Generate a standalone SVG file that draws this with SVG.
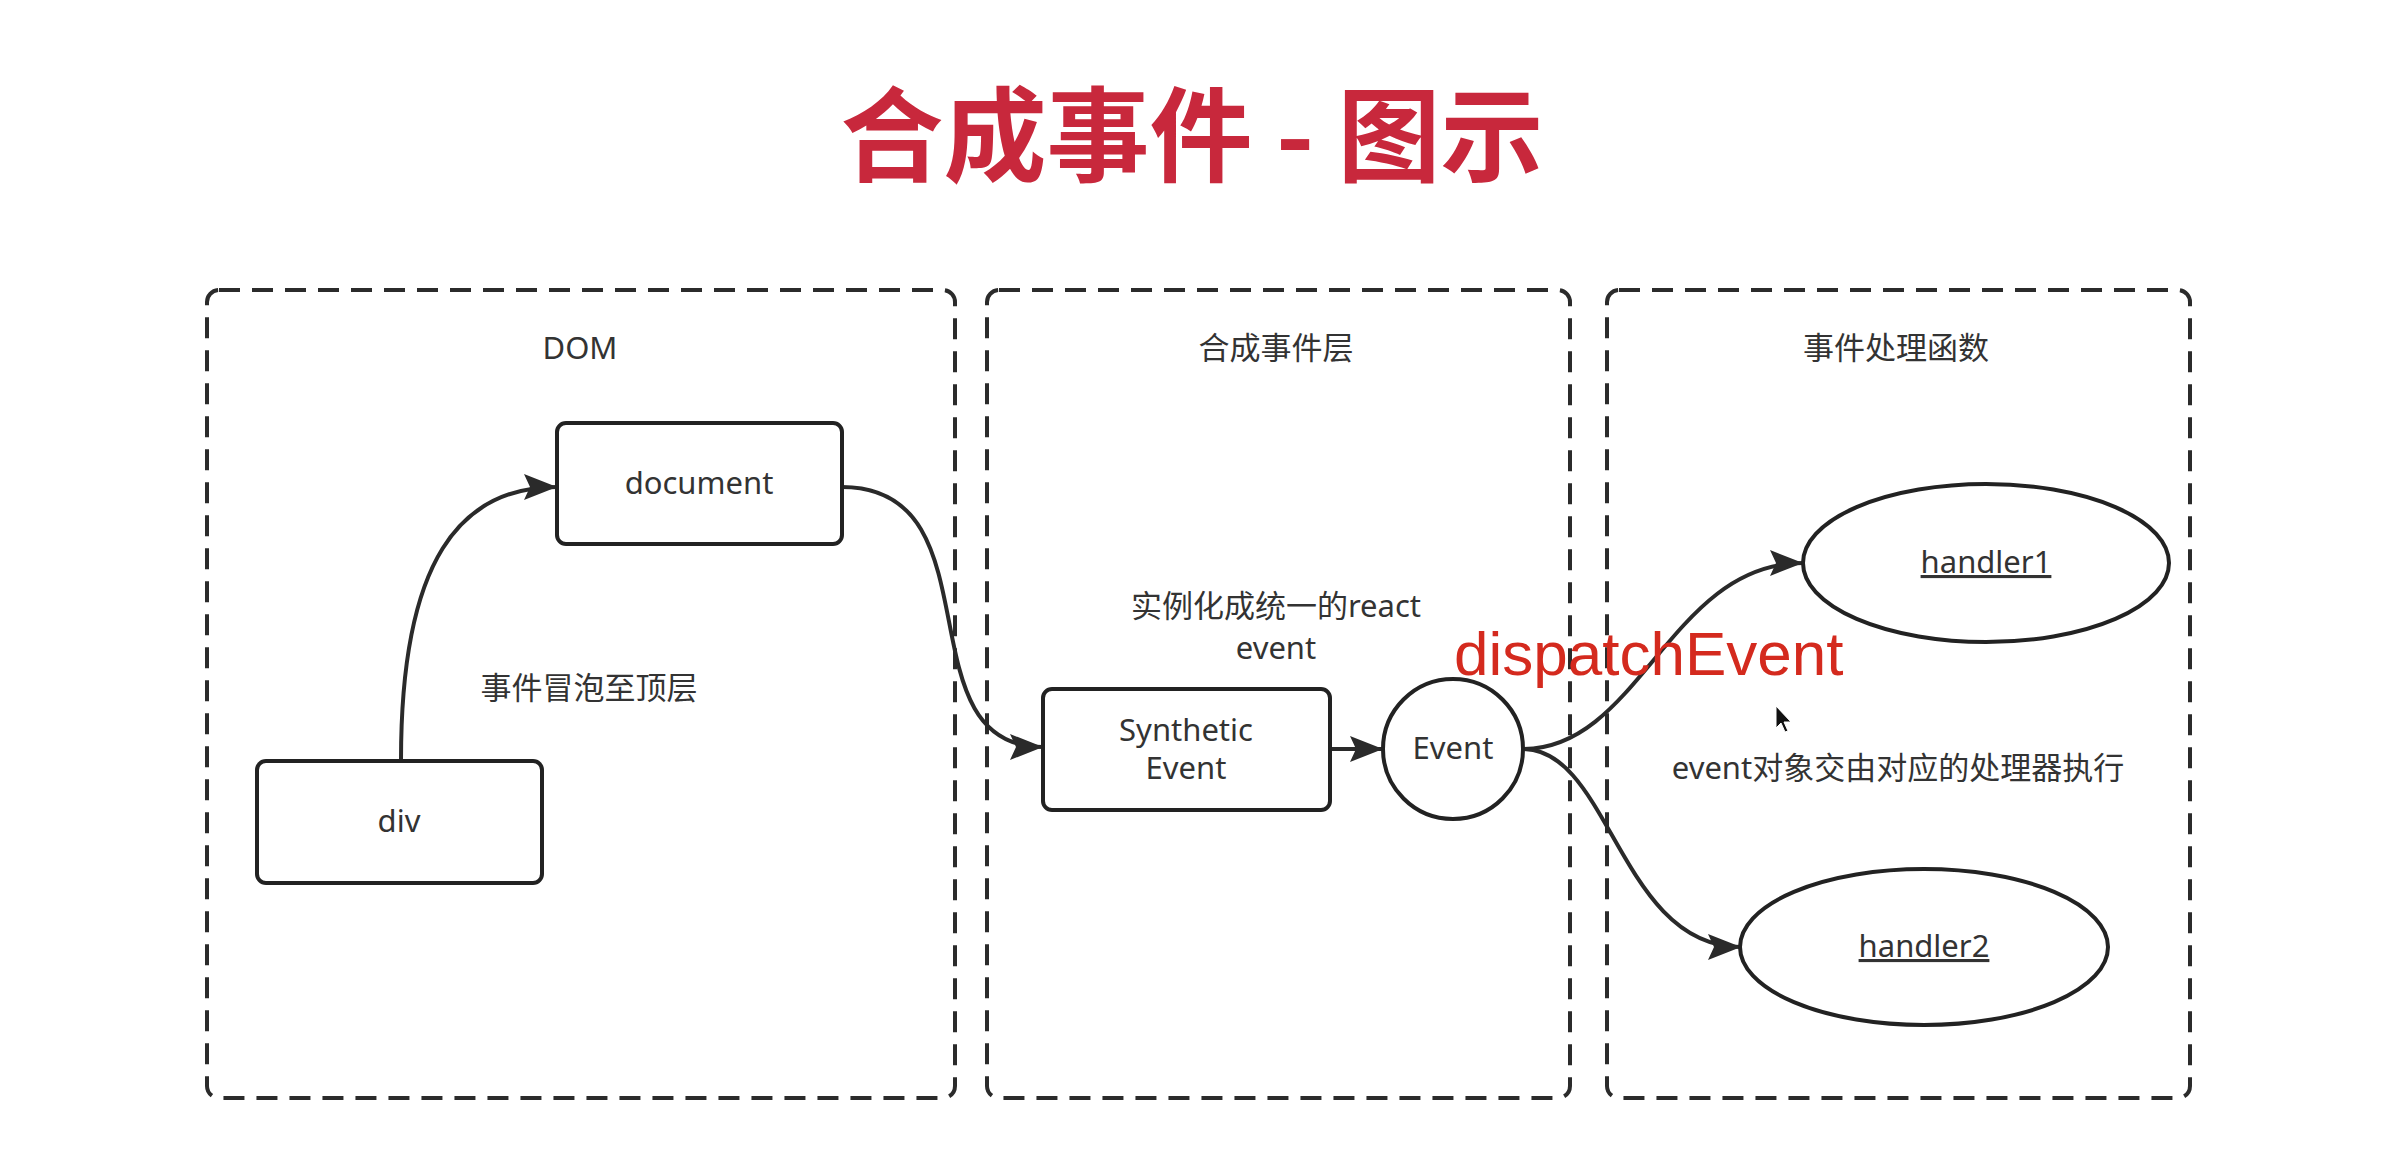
<svg xmlns="http://www.w3.org/2000/svg" width="2388" height="1160" viewBox="0 0 2388 1160">
<defs>
<style>
.lane{fill:none;stroke:#2b2b2b;stroke-width:4;stroke-dasharray:21 12;}
.box{fill:#fff;stroke:#222;stroke-width:4;}
.t{font-family:"Noto Sans","Noto Sans CJK SC",sans-serif;font-size:31px;fill:#333;text-anchor:middle;}
.u{text-decoration:underline;}
.edge{fill:none;stroke:#2a2a2a;stroke-width:4;marker-end:url(#arr);}
</style>
<marker id="arr" markerUnits="userSpaceOnUse" markerWidth="36" markerHeight="28" refX="33" refY="13" orient="auto">
<path d="M0,0 L33,13 L0,26 L6,13 z" fill="#2a2a2a"/>
</marker>
</defs>
<rect width="2388" height="1160" fill="#fff"/>
<text x="1192" y="174" font-family="'Noto Sans CJK SC','Noto Sans',sans-serif" font-size="103" font-weight="bold" fill="#c8283c" text-anchor="middle">合成事件 - 图示</text>

<g id="lane-dom">
<rect class="lane" x="207" y="290" width="748" height="808" rx="12"/>
<text class="t" x="580" y="359">DOM</text>
</g>
<g id="lane-synthetic">
<rect class="lane" x="987" y="290" width="583" height="808" rx="12"/>
<text class="t" x="1276" y="359">合成事件层</text>
</g>
<g id="lane-handlers">
<rect class="lane" x="1607" y="290" width="583" height="808" rx="12"/>
<text class="t" x="1896" y="359">事件处理函数</text>
</g>

<g id="connectors">
<path class="edge" d="M401,760 C401,560 460,487 557,487"/>
<path class="edge" d="M842,487 C1000,487 900,747 1043,747"/>
<path class="edge" d="M1330,749 L1383,749"/>
<path class="edge" d="M1523,749 C1640,749 1670,563 1803,563"/>
<path class="edge" d="M1523,749 C1610,749 1620,947 1741,947"/>
</g>

<g id="node-document">
<rect class="box" x="557" y="423" width="285" height="121" rx="9"/>
<text class="t" x="699" y="494">document</text>
</g>
<g id="node-div">
<rect class="box" x="257" y="761" width="285" height="122" rx="9"/>
<text class="t" x="399" y="832">div</text>
</g>
<g id="label-bubble">
<text class="t" x="589" y="699">事件冒泡至顶层</text>
</g>
<g id="node-synthetic">
<rect class="box" x="1043" y="689" width="287" height="121" rx="9"/>
<text class="t" x="1186" y="741">Synthetic</text>
<text class="t" x="1186" y="779">Event</text>
</g>
<g id="label-instantiate">
<text class="t" x="1276" y="617" font-size="30">实例化成统一的react</text>
<text class="t" x="1276" y="659" font-size="30">event</text>
</g>
<g id="node-event">
<circle class="box" cx="1453" cy="749" r="70"/>
<text class="t" x="1453" y="759">Event</text>
</g>
<g id="label-dispatch">
<text x="1454" y="675" font-family="'Liberation Sans',Arial,sans-serif" font-size="62" fill="#d42a1e">dispatchEvent</text>
</g>
<g id="node-handler1">
<ellipse class="box" cx="1986" cy="563" rx="183" ry="79"/>
<text class="t u" x="1986" y="573">handler1</text>
</g>
<g id="node-handler2">
<ellipse class="box" cx="1924" cy="947" rx="184" ry="78"/>
<text class="t u" x="1924" y="957">handler2</text>
</g>
<g id="label-exec">
<text class="t" x="1898" y="779" font-size="30">event对象交由对应的处理器执行</text>
</g>
<g id="cursor">
<path d="M1776,706 L1776,728 L1781,723 L1785,732 L1788,731 L1784,722 L1791,722 z" fill="#111" stroke="#fff" stroke-width="1"/>
</g>
</svg>
